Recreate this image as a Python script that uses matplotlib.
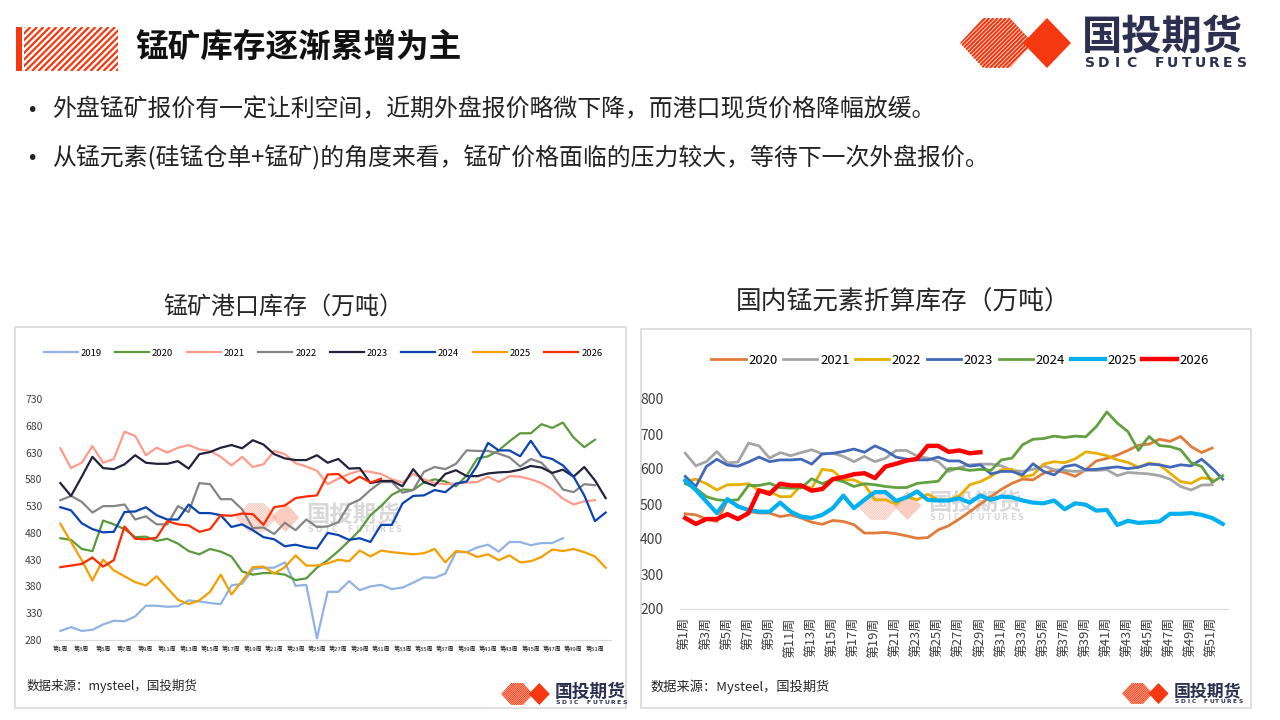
import matplotlib
matplotlib.use('Agg')
import matplotlib.pyplot as plt
from matplotlib.patches import Polygon, Rectangle
from matplotlib.collections import LineCollection

plt.rcParams['font.family'] = ['Noto Sans CJK SC', 'DejaVu Sans']

W, H = 1280, 720

# ---- data: 锰矿港口库存（万吨）, weekly, starting at week 1 ----
port_years = ['2019', '2020', '2021', '2022', '2023', '2024', '2025', '2026']
port_2019 = [297, 304, 297, 299, 309, 316, 315, 324, 344, 344, 342, 343, 354, 352, 349, 347,
             382, 385, 412, 415, 415, 425, 381, 383, 283, 370, 370, 390, 373, 380, 383, 375,
             378, 387, 397, 396, 404, 444, 444, 453, 458, 445, 463, 463, 457, 461, 461, 470]
port_2020 = [470, 467, 450, 446, 503, 496, 487, 472, 473, 465, 469, 460, 446, 440, 450, 445,
             436, 408, 402, 405, 405, 402, 392, 395, 415, 429, 446, 465, 485, 513, 530, 551,
             561, 560, 574, 580, 576, 567, 587, 619, 623, 634, 651, 666, 666, 683, 676, 686,
             658, 640, 654]
port_2021 = [638, 601, 611, 642, 611, 618, 669, 661, 625, 639, 630, 639, 644, 636, 633, 622,
             606, 622, 603, 608, 633, 627, 610, 604, 596, 571, 581, 590, 596, 594, 590, 580,
             574, 590, 580, 573, 571, 572, 574, 575, 585, 575, 586, 585, 580, 573, 561, 544,
             533, 539, 541]
port_2022 = [541, 549, 538, 518, 530, 530, 533, 505, 511, 496, 496, 530, 519, 573, 571, 543,
             543, 524, 489, 490, 478, 499, 485, 505, 491, 492, 500, 533, 542, 560, 575, 575,
             555, 560, 594, 603, 599, 609, 634, 633, 633, 628, 621, 604, 618, 611, 590, 561,
             556, 571, 569]
port_2023 = [573, 549, 585, 622, 601, 599, 608, 625, 611, 609, 609, 614, 600, 627, 631, 639,
             644, 638, 653, 645, 627, 619, 616, 616, 625, 611, 618, 600, 601, 573, 577, 577,
             567, 599, 575, 568, 590, 597, 586, 586, 591, 593, 594, 598, 605, 602, 592, 598,
             585, 603, 578, 545]
port_2024 = [528, 522, 498, 487, 481, 482, 519, 520, 528, 513, 505, 505, 533, 517, 517, 513,
             491, 496, 485, 472, 468, 455, 458, 453, 451, 480, 476, 467, 470, 463, 495, 495,
             535, 549, 550, 560, 556, 572, 576, 606, 648, 634, 634, 623, 652, 623, 618, 606,
             585, 550, 502, 518]
port_2025 = [497, 463, 429, 391, 430, 410, 399, 388, 382, 399, 377, 355, 347, 354, 370, 402,
             365, 390, 416, 417, 404, 416, 438, 419, 419, 423, 430, 427, 447, 436, 447, 444,
             442, 440, 442, 450, 425, 446, 444, 435, 440, 429, 438, 425, 427, 435, 449, 446,
             450, 444, 436, 415]
port_2026 = [416, 419, 422, 434, 417, 429, 492, 469, 468, 471, 502, 496, 494, 482, 487, 513,
             512, 516, 515, 495, 528, 531, 545, 548, 550, 589, 590, 573, 585, 574, 581]
port_colors = ['#8fb4e3', '#5b9a3c', '#ff9b8a', '#858585', '#22223d', '#0b44b0', '#f59e00', '#ff2a00']

# ---- data: 国内锰元素折算库存（万吨） ----
mn_years = ['2020', '2021', '2022', '2023', '2024', '2025', '2026']
mn_2020 = [472, 469, 457, 450, 510, 495, 479, 474, 474, 464, 469, 460, 448, 442, 453, 450,
           441, 417, 417, 419, 415, 409, 402, 404, 426, 438, 457, 478, 500, 521, 542, 559,
           571, 569, 588, 596, 590, 579, 598, 623, 630, 640, 653, 668, 671, 685, 679, 693,
           664, 647, 660]
mn_2021 = [645, 609, 621, 650, 617, 620, 674, 666, 631, 647, 638, 647, 655, 643, 645, 636,
           621, 636, 621, 631, 653, 653, 637, 631, 621, 593, 604, 612, 614, 614, 609, 596,
           593, 599, 609, 598, 596, 593, 596, 596, 598, 581, 590, 588, 586, 581, 571, 550,
           540, 554, 555]
mn_2022 = [564, 571, 558, 540, 555, 555, 558, 539, 536, 521, 521, 554, 545, 599, 595, 569,
           569, 555, 512, 512, 500, 521, 512, 528, 512, 512, 523, 555, 564, 579, 598, 599,
           577, 583, 614, 621, 618, 629, 649, 645, 638, 626, 619, 605, 617, 612, 588, 564,
           559, 575, 571]
mn_2023 = [579, 550, 607, 628, 611, 608, 620, 634, 621, 626, 626, 628, 614, 643, 645, 650,
           657, 648, 666, 653, 634, 628, 626, 626, 634, 623, 623, 608, 612, 586, 593, 593,
           583, 615, 593, 583, 607, 612, 598, 599, 603, 606, 601, 605, 614, 612, 605, 612,
           609, 628, 602, 571]
mn_2024 = [558, 545, 521, 512, 510, 512, 553, 553, 559, 547, 545, 546, 572, 558, 571, 564,
           550, 558, 555, 550, 547, 547, 559, 562, 565, 601, 601, 596, 599, 596, 626, 631,
           669, 685, 687, 694, 690, 694, 692, 721, 763, 731, 707, 653, 693, 667, 664, 655,
           618, 607, 562, 581]
mn_2025 = [567, 540, 507, 474, 514, 493, 483, 478, 478, 504, 478, 464, 460, 469, 488, 524,
           488, 512, 534, 534, 509, 519, 536, 512, 510, 510, 516, 504, 524, 512, 521, 519,
           510, 504, 502, 510, 485, 502, 498, 481, 483, 440, 452, 446, 448, 450, 472, 472,
           474, 469, 460, 443]
mn_2026 = [460, 443, 457, 457, 471, 457, 474, 539, 529, 558, 553, 553, 538, 543, 571, 577,
           585, 588, 574, 607, 615, 624, 629, 666, 666, 649, 653, 645, 648]
mn_colors = ['#e07b39', '#a5a5a5', '#e8ae00', '#4169b8', '#62a13f', '#00b0f0', '#ff0000']
mn_widths = [2.0, 2.0, 2.0, 2.0, 2.0, 3.0, 3.2]

week_labels = ['第%d周' % w for w in range(1, 53, 2)]
week_ticks = list(range(1, 53, 2))

bullets = ['外盘锰矿报价有一定让利空间，近期外盘报价略微下降，而港口现货价格降幅放缓。',
           '从锰元素(硅锰仓单+锰矿)的角度来看，锰矿价格面临的压力较大，等待下一次外盘报价。']

RED = '#f5380f'
NAVY = '#2b3050'


def frac(x0, y0, x1, y1):
    return [x0 / W, 1 - y1 / H, (x1 - x0) / W, (y1 - y0) / H]


def stripes(ax, poly, color, lw, gap, alpha=1.0, z=2):
    clip = Polygon(poly, closed=True, facecolor='none', edgecolor='none')
    ax.add_patch(clip)
    xs = [p[0] for p in poly]
    ys = [p[1] for p in poly]
    h = max(ys) - min(ys)
    segs = []
    c = min(xs) - h
    while c < max(xs):
        segs.append([(c, max(ys)), (c + h, min(ys))])
        c += gap
    lc = LineCollection(segs, colors=color, linewidths=lw, alpha=alpha, zorder=z)
    ax.add_collection(lc)
    lc.set_clip_path(clip)


def logo(ax, x, y, s, red=RED, txt=NAVY, alpha=1.0, z=2):
    def P(pts):
        return [(x + a * s, y + b * s) for a, b in pts]
    stripes(ax, P([(0, 25), (23, 0), (50, 0), (73, 25), (50, 50), (23, 50)]),
            red, 1.6 * s, 4.2 * s, alpha, z)
    ax.add_patch(Polygon(P([(63, 25), (87, 0), (111, 25), (87, 50)]), closed=True,
                         facecolor=red, edgecolor='none', alpha=alpha, zorder=z + 1))
    ax.text(x + 122 * s, y + 20 * s, '国投期货', fontsize=29 * s, fontweight='bold',
            color=txt, alpha=alpha, va='center', ha='left', zorder=z + 1)
    letters = 'SDIC FUTURES'
    for i, ch in enumerate(letters):
        ax.text(x + (130 + i * 13.8) * s, y + 45 * s, ch, fontsize=10 * s, fontweight='bold',
                family='DejaVu Sans', color=txt, alpha=alpha, va='center', ha='center',
                zorder=z + 1)


fig = plt.figure(figsize=(12.8, 7.2), dpi=100)
bg = fig.add_axes([0, 0, 1, 1], zorder=0)
bg.set_xlim(0, W)
bg.set_ylim(H, 0)
bg.axis('off')

# header
bg.add_patch(Rectangle((16, 27), 6, 44, facecolor=RED, edgecolor='none'))
stripes(bg, [(24, 27), (118, 27), (118, 71), (24, 71)], RED, 1.6, 6.5)
bg.text(135, 47, '锰矿库存逐渐累增为主', fontsize=23.5, fontweight='bold', color='#111111',
        va='center', ha='left')
logo(bg, 960, 18, 1.0)

for i, t in enumerate(bullets):
    yy = 110 + i * 48
    bg.text(32, yy, '•', fontsize=14, family='DejaVu Sans', color='#222222',
            va='center', ha='center')
    bg.text(52, yy, t, fontsize=17.2, color='#222222', va='center', ha='left')

# panels
bg.add_patch(Rectangle((15, 327), 611, 381, facecolor='none', edgecolor='#d9d9d9', lw=1.2))
bg.add_patch(Rectangle((641, 329), 610, 379, facecolor='none', edgecolor='#d9d9d9', lw=1.2))
bg.text(283, 307, '锰矿港口库存（万吨）', fontsize=17.3, color='#262626', va='center', ha='center')
bg.text(903, 303, '国内锰元素折算库存（万吨）', fontsize=18.5, color='#262626', va='center', ha='center')
bg.text(27, 686, '数据来源：mysteel，国投期货', fontsize=9, color='#262626', va='center', ha='left')
bg.text(650, 687, '数据来源：Mysteel，国投期货', fontsize=9.5, color='#262626', va='center', ha='left')
logo(bg, 501, 683, 0.44)
logo(bg, 1122, 683, 0.42)

# watermarks
logo(bg, 235, 503, 0.58, red='#f7a48f', txt='#b8b8b8', alpha=0.55, z=1)
logo(bg, 857, 491, 0.58, red='#f7a48f', txt='#b8b8b8', alpha=0.55, z=1)

# left chart
ax1 = fig.add_axes(frac(55, 399, 611, 640), zorder=2)
ax1.patch.set_alpha(0)
port_series = [port_2019, port_2020, port_2021, port_2022, port_2023, port_2024, port_2025, port_2026]
for name, vals, col in zip(port_years, port_series, port_colors):
    ax1.plot(range(1, len(vals) + 1), vals, color=col, lw=1.6, label=name)
ax1.set_xlim(0.5, 52.5)
ax1.set_ylim(280, 730)
ax1.set_yticks(range(280, 731, 50))
ax1.set_xticks(week_ticks)
ax1.set_xticklabels(week_labels, fontsize=4.3)
ax1.tick_params(axis='y', length=0, pad=9, labelsize=7.5, labelcolor='#404040')
ax1.tick_params(axis='x', length=0, pad=4, colors='#111111')
for side in ['top', 'right', 'left']:
    ax1.spines[side].set_visible(False)
ax1.spines['bottom'].set_color('#d9d9d9')
ax1.legend(loc='center', bbox_to_anchor=(40 / W, 1 - 360 / H, 566 / W, 14 / H),
           bbox_transform=fig.transFigure, mode='expand', ncol=8, frameon=False,
           fontsize=6.8, handlelength=3.6, handletextpad=0.3, borderaxespad=0)

# right chart
ax2 = fig.add_axes(frac(680, 399, 1228, 609), zorder=2)
ax2.patch.set_alpha(0)
mn_series = [mn_2020, mn_2021, mn_2022, mn_2023, mn_2024, mn_2025, mn_2026]
for name, vals, col, lw in zip(mn_years, mn_series, mn_colors, mn_widths):
    ax2.plot(range(1, len(vals) + 1), vals, color=col, lw=lw, label=name)
ax2.set_xlim(0.5, 52.5)
ax2.set_ylim(200, 800)
ax2.set_yticks(range(200, 801, 100))
ax2.set_xticks(week_ticks)
ax2.set_xticklabels(week_labels, rotation=90, fontsize=9.3)
ax2.tick_params(axis='y', length=0, pad=12, labelsize=10, labelcolor='#404040')
ax2.tick_params(axis='x', length=0, pad=6, colors='#404040')
for side in ['top', 'right', 'left']:
    ax2.spines[side].set_visible(False)
ax2.spines['bottom'].set_color('#d9d9d9')
ax2.legend(loc='center', bbox_to_anchor=(706 / W, 1 - 368 / H, 508 / W, 16 / H),
           bbox_transform=fig.transFigure, mode='expand', ncol=7, frameon=False,
           fontsize=9.5, handlelength=2.6, handletextpad=0.2, borderaxespad=0)

fig.savefig('out.png', dpi=100)
